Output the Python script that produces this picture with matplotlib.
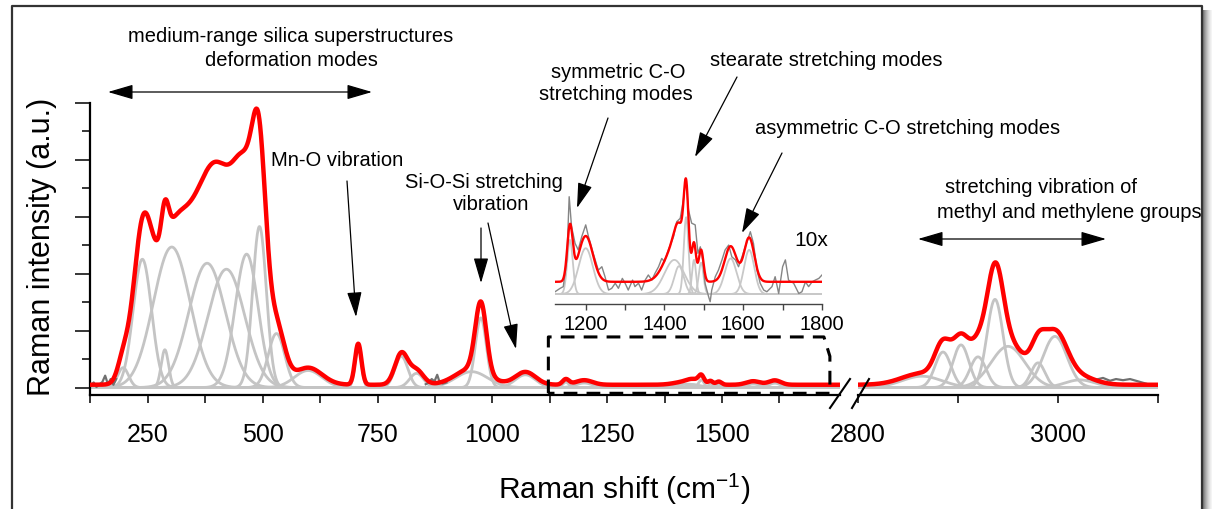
import numpy as np
import matplotlib.pyplot as plt
from matplotlib.patches import FancyArrowPatch, Rectangle
from matplotlib.lines import Line2D
from matplotlib.ticker import FixedLocator

plt.rcParams['font.family'] = ['Liberation Sans', 'DejaVu Sans']
plt.rcParams['mathtext.default'] = 'regular'

# fitted bands below 1100 cm-1: centre (cm-1), height (a.u.), sigma (cm-1)
lo_pos = [196, 238, 287, 302, 379, 421, 465, 493, 530, 599, 708, 802, 835, 955, 975, 1072]
lo_amp = [0.7, 4.51, 1.33, 4.94, 4.37, 4.16, 4.69, 5.66, 1.9, 0.6, 1.44, 1.1, 0.5, 0.56, 2.45, 0.45]
lo_wid = [12, 20, 8, 40, 40, 40, 25, 15, 18, 30, 7, 14, 15, 35, 12, 22]

# weak bands 1100-1800 cm-1 (shown x10 in the inset)
mid_pos = [1160, 1200, 1425, 1437, 1455, 1475, 1493, 1568, 1615]
mid_amp = [0.19, 0.161, 0.12, 0.098, 0.27, 0.12, 0.11, 0.125, 0.155]
mid_wid = [7, 18, 25, 12, 6, 5, 6, 15, 13]

# C-H stretching bands
hi_pos = [2864, 2885, 2903, 2920, 2937, 2950, 2980, 2997, 3022]
hi_amp = [0.4, 1.25, 1.5, 1.08, 3.1, 1.45, 0.87, 1.8, 0.27]
hi_wid = [20, 8, 8, 8, 8, 17, 7, 12, 15]

fit_base = 0.1     # offset of the cumulative fit
inset_base = 0.43  # same offset in the inset
zoom = 10

# measured spectrum where it shows from under the fit
raw_lo_x = [124, 132, 138, 145, 151, 157, 163, 169, 175, 181]
raw_lo_y = [0.05, 0.18, 0.02, 0.12, 0.2, 0.42, 0.12, 0.3, 0.1, 0.3]
raw_mid_x = [855, 862, 868, 874, 880, 885, 892, 900]
raw_mid_y = [0.12, 0.18, 0.3, 0.22, 0.45, 0.2, 0.14, 0.18]
raw_hi_x = [3030, 3038, 3045, 3052, 3058, 3065, 3072, 3080, 3088]
raw_hi_y = [0.32, 0.28, 0.34, 0.24, 0.3, 0.26, 0.3, 0.22, 0.14]

# measured spectrum in the inset (already x10)
raw_ins_x = [1122, 1135, 1143, 1152, 1158, 1164, 1173, 1181, 1190, 1200, 1207,
             1219, 1232, 1241, 1249, 1258, 1266, 1275, 1283, 1293, 1300, 1308,
             1319, 1325, 1334, 1342, 1351, 1359, 1368, 1376, 1385, 1393, 1400,
             1410, 1423, 1431, 1440, 1448, 1454, 1461, 1469, 1478, 1485, 1491,
             1497, 1503, 1512, 1516, 1520, 1529, 1537, 1546, 1554, 1563, 1571,
             1580, 1588, 1597, 1605, 1614, 1618, 1626, 1635, 1643, 1652, 1660,
             1673, 1681, 1690, 1700, 1707, 1715, 1728, 1741, 1749, 1758, 1766,
             1775, 1783, 1792, 1800]
raw_ins_y = [0.08, 0.2, 0.26, 1.2, 3.42, 2.37, 1.78, 1.55, 2.02, 2.43, 2.02,
             1.43, 0.84, 0.96, 0.61, 0.14, 0.2, 0.38, 0.2, 0.55, 0.38, 0.14,
             0.49, 0.26, 0.38, 0.14, 0.49, 0.67, 0.49, 0.73, 0.96, 1.25, 1.14,
             1.55, 2.02, 2.54, 2.66, 3.31, 4.07, 2.95, 2.49, 2.43, 1.43, 1.66,
             1.2, 0.38, -0.09, -0.27, 0.14, 0.61, 0.84, 1.2, 1.55, 1.72, 1.31,
             1.2, 0.96, 1.31, 1.66, 2.02, 2.19, 1.78, 0.84, 0.38, 0.14, 0.08,
             0.26, 0.61, 0.02, 0.96, 1.2, 0.49, 0.38, 0.02, 0.08, 0.43, 0.26,
             0.43, 0.49, 0.55, 0.67]

W, H = 1212, 509
fig = plt.figure(figsize=(W / 100, H / 100), dpi=100)


def fx(px):
    return px / W


def fy(py):
    return 1 - py / H


def band(x, c, a, s):
    return a * np.exp(-0.5 * ((x - c) / s) ** 2)


pos = lo_pos + mid_pos + hi_pos
amp = lo_amp + mid_amp + hi_amp
wid = lo_wid + mid_wid + hi_wid

ax1 = fig.add_axes([fx(90), fy(395), fx(840) - fx(90), fy(103) - fy(395)])
ax2 = fig.add_axes([fx(858), fy(395), fx(1158) - fx(858), fy(103) - fy(395)])

for ax, (x0, x1) in ((ax1, (124, 1757)), (ax2, (2800, 3100))):
    x = np.linspace(x0, x1, 4000)
    for c, a, s in zip(pos, amp, wid):
        if x0 - 5 * s < c < x1 + 5 * s:
            ax.plot(x, band(x, c, a, s), color='#c4c4c4', lw=2, zorder=1)
    fit = fit_base + sum(band(x, c, a, s) for c, a, s in zip(pos, amp, wid))
    ax.plot(x, fit, color='#ff0000', lw=3.2, zorder=3, solid_joinstyle='round')
    ax.set_ylim(-0.26, 10)
    ax.set_xlim(x0, x1)
    ax.set_facecolor('none')
    for s in ('top', 'right'):
        ax.spines[s].set_visible(False)
    ax.spines['bottom'].set_linewidth(1.6)
    ax.tick_params(axis='x', which='both', direction='out', length=6, width=1.1,
                   pad=14, labelsize=18)

for rx, ry in ((raw_lo_x, raw_lo_y), (raw_mid_x, raw_mid_y)):
    ax1.plot(rx, ry, color='#707070', lw=1.6, zorder=2)
ax2.plot(raw_hi_x, raw_hi_y, color='#707070', lw=1.6, zorder=2)

ax1.set_xticks([250, 500, 750, 1000, 1250, 1500])
ax1.xaxis.set_minor_locator(FixedLocator([125, 375, 625, 875, 1125, 1375, 1625]))
ax1.set_yticks([0, 2, 4, 6, 8, 10])
ax1.set_yticklabels([])
ax1.yaxis.set_minor_locator(FixedLocator([1, 3, 5, 7, 9]))
ax1.tick_params(axis='y', which='major', direction='out', length=11, width=1.1)
ax1.tick_params(axis='y', which='minor', direction='out', length=6, width=1.1)
ax1.spines['left'].set_linewidth(1.6)

ax2.set_xticks([2800, 3000])
ax2.xaxis.set_minor_locator(FixedLocator([2900, 3100]))
ax2.spines['left'].set_visible(False)
ax2.tick_params(axis='y', which='both', left=False, labelleft=False)

# dashed frame marking the zoomed range
ax1.plot([1122, 1122, 1722, 1735, 1735, 1122], [-0.2, 1.78, 1.78, 1.1, -0.2, -0.2],
         color='black', lw=2.2, ls=(0, (4.5, 3)), zorder=4, clip_on=False)

# inset: 1100-1800 cm-1 magnified
axi = fig.add_axes([fx(555), fy(304), fx(822) - fx(555), fy(160) - fy(304)])
axi.set_facecolor('none')
xi = np.linspace(1122, 1800, 2000)
for c, a, s in zip(mid_pos, mid_amp, mid_wid):
    axi.plot(xi, zoom * band(xi, c, a, s), color='#c8c8c8', lw=1.3, zorder=1)
axi.plot(raw_ins_x, raw_ins_y, color='#858585', lw=1.0, zorder=2)
fit_i = inset_base + zoom * sum(band(xi, c, a, s) for c, a, s in zip(mid_pos, mid_amp, mid_wid))
axi.plot(xi, fit_i, color='#ff0000', lw=1.7, zorder=3)
axi.set_xlim(1122, 1800)
axi.set_ylim(-0.35, 4.71)
for s in ('top', 'right', 'left'):
    axi.spines[s].set_visible(False)
axi.spines['bottom'].set_linewidth(1.0)
axi.spines['bottom'].set_color('#444444')
axi.set_yticks([])
axi.set_xticks([1200, 1400, 1600, 1800])
axi.xaxis.set_minor_locator(FixedLocator([1300, 1500, 1700]))
axi.tick_params(axis='x', which='both', direction='out', length=4, width=1,
                color='#444444', pad=4, labelsize=14.5)

# axis titles
fig.text(fx(42), fy(247), 'Raman intensity (a.u.)', rotation=90, ha='center',
         va='center', fontsize=22)
fig.text(fx(624), fy(489), 'Raman shift (cm$^{-1}$)', ha='center', va='center',
         fontsize=21.5)

# band assignments
labels = [
    (291, 36, 'medium-range silica superstructures', 'center'),
    (291, 61, 'deformation modes', 'center'),
    (271, 161, 'Mn-O vibration', 'left'),
    (484, 183, 'Si-O-Si stretching', 'center'),
    (491, 205, 'vibration', 'center'),
    (618, 73, 'symmetric C-O', 'center'),
    (616, 95, 'stretching modes', 'center'),
    (826, 60, 'stearate stretching modes', 'center'),
    (908, 129, 'asymmetric C-O stretching modes', 'center'),
    (1041, 188, 'stretching vibration of', 'center'),
    (1069, 213, 'methyl and methylene groups', 'center'),
]
for px, py, txt, ha in labels:
    fig.text(fx(px), fy(py), txt, ha=ha, va='center', fontsize=14.5)
fig.text(fx(811), fy(241), '10x', ha='center', va='center', fontsize=15)

arrows = [
    ((347, 181), (356, 317), '-|>'),
    ((481, 228), (481, 283), '-|>'),
    ((488, 223), (516, 349), '-|>'),
    ((608, 118), (577, 208), '-|>'),
    ((737, 77), (695, 157), '-|>'),
    ((782, 153), (742, 233), '-|>'),
    ((108, 92), (372, 92), '<|-|>'),
    ((918, 239), (1106, 239), '<|-|>'),
]
for (xa, ya), (xb, yb), st in arrows:
    fig.add_artist(FancyArrowPatch((fx(xa), fy(ya)), (fx(xb), fy(yb)),
                                   transform=fig.transFigure,
                                   arrowstyle=st + ',head_length=1.3,head_width=0.38',
                                   mutation_scale=12, lw=0.9, color='black',
                                   shrinkA=0, shrinkB=0))

# axis break marks
for (xa, ya), (xb, yb) in (((830, 408), (850, 379)), ((852, 408), (869, 379))):
    fig.add_artist(Line2D([fx(xa), fx(xb)], [fy(ya), fy(yb)], color='black',
                          lw=1.5, transform=fig.transFigure))

# outer frame with a soft shadow on the right
shade = ['#7a7a7a', '#8f8f8f', '#a3a3a3', '#b5b5b5', '#c6c6c6', '#d5d5d5',
         '#e2e2e2', '#ececec', '#f4f4f4']
for i, col in enumerate(shade):
    fig.add_artist(Rectangle((fx(1203 + i), 0), 1 / W, fy(10), color=col, lw=0,
                             transform=fig.transFigure))
fig.add_artist(Line2D([fx(12), fx(12), fx(1202), fx(1202)], [0, fy(6), fy(6), 0],
                      color='#333333', lw=1.6, transform=fig.transFigure))

fig.savefig('out.png', dpi=100)
